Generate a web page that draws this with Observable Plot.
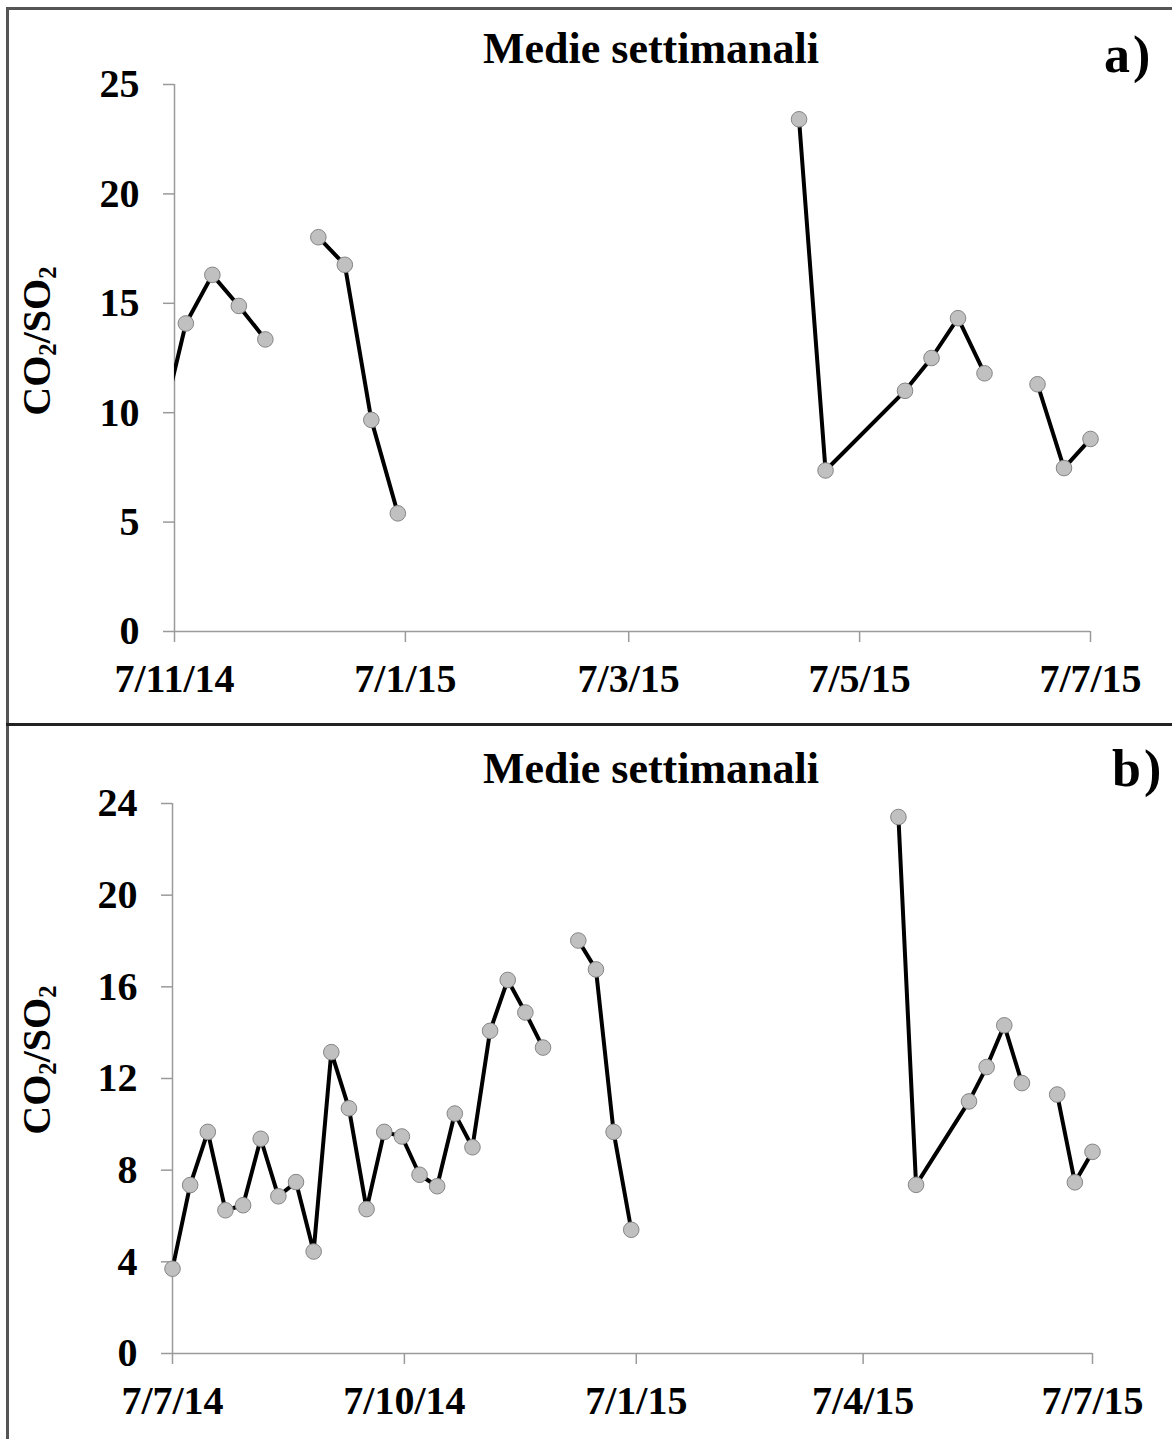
<!DOCTYPE html>
<html>
<head>
<meta charset="utf-8">
<script src="https://cdn.jsdelivr.net/npm/d3@7"></script>
<script src="https://cdn.jsdelivr.net/npm/@observablehq/plot@0.6"></script>
<style>
  html, body { margin: 0; padding: 0; background: #fff; }
  #wrap { position: relative; width: 1172px; height: 1439px; overflow: hidden; background: #fff;
          font-family: 'Liberation Serif', 'Times New Roman', serif; font-weight: bold; color: #000; }
  .panel { position: absolute; left: 0; }
  .title { position: absolute; white-space: nowrap; font-size: 44px; line-height: 44px; transform: translateX(-50%); }
  .tag { position: absolute; white-space: nowrap; font-size: 52px; line-height: 52px; letter-spacing: 3px; }
  .ylab { position: absolute; white-space: nowrap; font-size: 40px; line-height: 40px;
          transform: translate(-50%, -50%) rotate(-90deg); }
  .ylab sub { font-size: 0.62em; vertical-align: -0.25em; line-height: 0; }
  .bline { position: absolute; }
</style>
</head>
<body>
<div id="wrap"></div>
<script>
// ---- data (weekly means of CO2/SO2) ----
const dates = [
  "2014-07-07","2014-07-14","2014-07-21","2014-07-28","2014-08-04","2014-08-11",
  "2014-08-18","2014-08-25","2014-09-01","2014-09-08","2014-09-15","2014-09-22",
  "2014-09-29","2014-10-06","2014-10-13","2014-10-20","2014-10-27","2014-11-03",
  "2014-11-10","2014-11-17","2014-11-24","2014-12-01",
  "2014-12-15","2014-12-22","2014-12-29","2015-01-05",
  "2015-04-21","2015-04-28","2015-05-19","2015-05-26","2015-06-02","2015-06-09",
  "2015-06-23","2015-06-30","2015-07-07"
];
const ratio = [
  3.7, 7.35, 9.67, 6.25, 6.47, 9.37,
  6.86, 7.48, 4.45, 13.15, 10.7, 6.3,
  9.67, 9.47, 7.8, 7.3, 10.47, 9.0,
  14.08, 16.3, 14.88, 13.35,
  18.02, 16.76, 9.67, 5.4,
  23.41, 7.36, 11.0, 12.5, 14.32, 11.8,
  11.3, 7.47, 8.8
];
const segment = [
  1,1,1,1,1,1, 1,1,1,1,1,1, 1,1,1,1,1,1, 1,1,1,1,
  2,2,2,2,
  3,3,3,3,3,3,
  4,4,4
];

const titleText = "Medie settimanali";
const xTicksA = ["2014-11-07","2015-01-07","2015-03-07","2015-05-07","2015-07-07"];
const xLabelsA = ["7/11/14","7/1/15","7/3/15","7/5/15","7/7/15"];
const yTicksA = [0, 5, 10, 15, 20, 25];
const xTicksB = ["2014-07-07","2014-10-07","2015-01-07","2015-04-07","2015-07-07"];
const xLabelsB = ["7/7/14","7/10/14","7/1/15","7/4/15","7/7/15"];
const yTicksB = [0, 4, 8, 12, 16, 20, 24];

const rows = dates.map((d, i) => ({date: new Date(d + "T00:00:00Z"), v: ratio[i], seg: segment[i]}));

function panel(cfg) {
  const ticks = cfg.xTicks.map(d => new Date(d + "T00:00:00Z"));
  const labelMap = new Map(ticks.map((t, i) => [+t, cfg.xLabels[i]]));
  const x0 = ticks[0], x1 = ticks[ticks.length - 1];
  const yMax = cfg.yTicks[cfg.yTicks.length - 1];
  const visible = rows.filter(d => d.date >= x0 && d.date <= x1);
  const axisColor = "#9a9a9a";
  return Plot.plot({
    width: 1172,
    height: cfg.height,
    marginTop: cfg.mt, marginBottom: cfg.mb, marginLeft: cfg.ml, marginRight: cfg.mr,
    style: {fontFamily: "'Liberation Serif', 'Times New Roman', serif", fontWeight: "bold",
            fontSize: "40px", background: "transparent", overflow: "visible", color: "#000"},
    x: {type: "utc", domain: [x0, x1]},
    y: {domain: [0, yMax]},
    marks: [
      Plot.ruleX([x0], {y1: () => 0, y2: () => yMax, stroke: axisColor, strokeWidth: 1.5}),
      Plot.ruleY([0], {x1: () => x0, x2: () => x1, stroke: axisColor, strokeWidth: 1.5}),
      Plot.axisX({ticks, tickFormat: d => labelMap.get(+d), tickSize: 11, tickPadding: 21,
                  stroke: axisColor, strokeWidth: 1.5, fill: "#000", fontSize: 40, label: null}),
      Plot.axisY({ticks: cfg.yTicks, tickSize: 11, tickPadding: 24,
                  stroke: axisColor, strokeWidth: 1.5, fill: "#000", fontSize: 40, label: null}),
      Plot.line(rows, {x: "date", y: "v", z: "seg", stroke: "#000", strokeWidth: 4, clip: true}),
      Plot.dot(visible, {x: "date", y: "v", r: 7.8, fill: "#c0c0c0", stroke: "#858585", strokeWidth: 1})
    ]
  });
}

const wrap = document.getElementById("wrap");

function addPanel(top, cfg, tag, tagLeft, tagTop, titleTop, ylabY) {
  const div = document.createElement("div");
  div.className = "panel";
  div.style.top = top + "px";
  div.appendChild(panel(cfg));
  wrap.appendChild(div);

  const t = document.createElement("div");
  t.className = "title";
  t.style.left = "651px";
  t.style.top = titleTop + "px";
  t.textContent = titleText;
  wrap.appendChild(t);

  const g = document.createElement("div");
  g.className = "tag";
  g.style.left = tagLeft + "px";
  g.style.top = tagTop + "px";
  g.textContent = tag;
  wrap.appendChild(g);

  const yl = document.createElement("div");
  yl.className = "ylab";
  yl.style.left = "37px";
  yl.style.top = ylabY + "px";
  yl.innerHTML = "CO<sub>2</sub>/SO<sub>2</sub>";
  wrap.appendChild(yl);
}

addPanel(0, {height: 723, mt: 84, mb: 92, ml: 174, mr: 82,
  xTicks: xTicksA, xLabels: xLabelsA, yTicks: yTicksA}, "a)", 1104, 29, 27, 341);
addPanel(723, {height: 716, mt: 80, mb: 86, ml: 172, mr: 80,
  xTicks: xTicksB, xLabels: xLabelsB, yTicks: yTicksB}, "b)", 1112, 743, 747, 1060);

// frame lines
function bline(l, t, w, h, c) {
  const b = document.createElement("div");
  b.className = "bline";
  Object.assign(b.style, {left: l + "px", top: t + "px", width: w + "px", height: h + "px", background: c});
  wrap.appendChild(b);
}
bline(6, 7, 1166, 2.5, "#555");
bline(6, 7, 2.5, 1432, "#555");
bline(6, 723, 1166, 2.5, "#222");
</script>
</body>
</html>
